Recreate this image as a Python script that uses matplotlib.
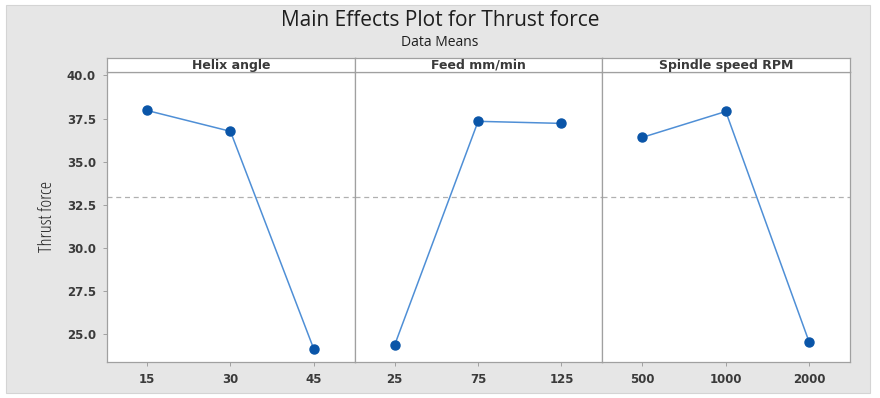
import matplotlib
matplotlib.use('Agg')
import matplotlib.pyplot as plt
from matplotlib.patches import Rectangle

plt.rcParams['font.family'] = ['Open Sans', 'DejaVu Sans']

# data
factors = ['Helix angle', 'Feed mm/min', 'Spindle speed RPM']
levels = [['15', '30', '45'], ['25', '75', '125'], ['500', '1000', '2000']]
helix_means = [37.97, 36.76, 24.13]
feed_means = [24.37, 37.34, 37.22]
spindle_means = [36.41, 37.91, 24.54]
means = [helix_means, feed_means, spindle_means]
grand_mean = 32.95
yticks = [25.0, 27.5, 30.0, 32.5, 35.0, 37.5, 40.0]

W, H = 880, 398
fig = plt.figure(figsize=(W / 100, H / 100), dpi=100)
fig.patch.set_facecolor('white')
fig.patches.append(Rectangle((6 / W, 1 - 393 / H), 864 / W, 388 / H,
                             transform=fig.transFigure, facecolor='#e6e6e6',
                             edgecolor='#d4d4d4', linewidth=0.8, zorder=-5))

fig.text(440 / W, 1 - 21 / H, 'Main Effects Plot for Thrust force', ha='center', va='center',
         fontsize=15, color='#1e1e1e')
fig.text(440 / W, 1 - 42 / H, 'Data Means', ha='center', va='center',
         fontsize=10, color='#1e1e1e')

left, right = 107, 850
pw = (right - left) / 3
bot, top = 362, 71.5
strip_top = 58
line_col = '#4f8fd6'
mark_col = '#0a55a8'
edge = '#a0a0a0'
tick_font = dict(family='DejaVu Sans', fontsize=8.5, fontweight='bold', color='#3a3a3a')

for i in range(3):
    x0 = left + i * pw
    ax = fig.add_axes([x0 / W, 1 - bot / H, pw / W, (bot - top) / H])
    ax.set_zorder(2)
    ax.set_facecolor('white')
    ax.plot(range(3), means[i], color=line_col, linewidth=1.1, zorder=3)
    ax.plot(range(3), means[i], linestyle='none', marker='o', markersize=6.5,
            color=mark_col, zorder=4)
    ax.axhline(grand_mean, color='#b0b0b0', linestyle=(0, (4, 3)), linewidth=0.9, zorder=1)
    ax.set_xlim(-0.48, 2.49)
    ax.set_ylim(23.38, 40.23)
    ax.set_xticks(range(3))
    ax.set_xticklabels(levels[i], **tick_font)
    ax.set_yticks(yticks)
    if i == 0:
        ax.set_yticklabels(['%.1f' % v for v in yticks], **tick_font)
        ax.set_ylabel('Thrust force', fontsize=13.5, color='#222222', labelpad=8,
                      fontstretch='condensed')
    else:
        ax.tick_params(axis='y', left=False, labelleft=False)
    ax.tick_params(axis='both', length=3, color=edge, width=0.7, pad=5)
    for sp in ax.spines.values():
        sp.set_color(edge)
        sp.set_linewidth(0.9)

    # strip with factor name
    sax = fig.add_axes([x0 / W, 1 - top / H, pw / W, (top - strip_top) / H])
    sax.set_zorder(2)
    sax.set_facecolor('white')
    sax.set_xticks([])
    sax.set_yticks([])
    for sp in sax.spines.values():
        sp.set_color(edge)
        sp.set_linewidth(0.9)
    sax.text(0.5, 0.2, factors[i], ha='center', va='baseline', transform=sax.transAxes,
             family='DejaVu Sans', fontsize=9, fontweight='bold', color='#3a3a3a')

fig.savefig('out.png', dpi=100)
